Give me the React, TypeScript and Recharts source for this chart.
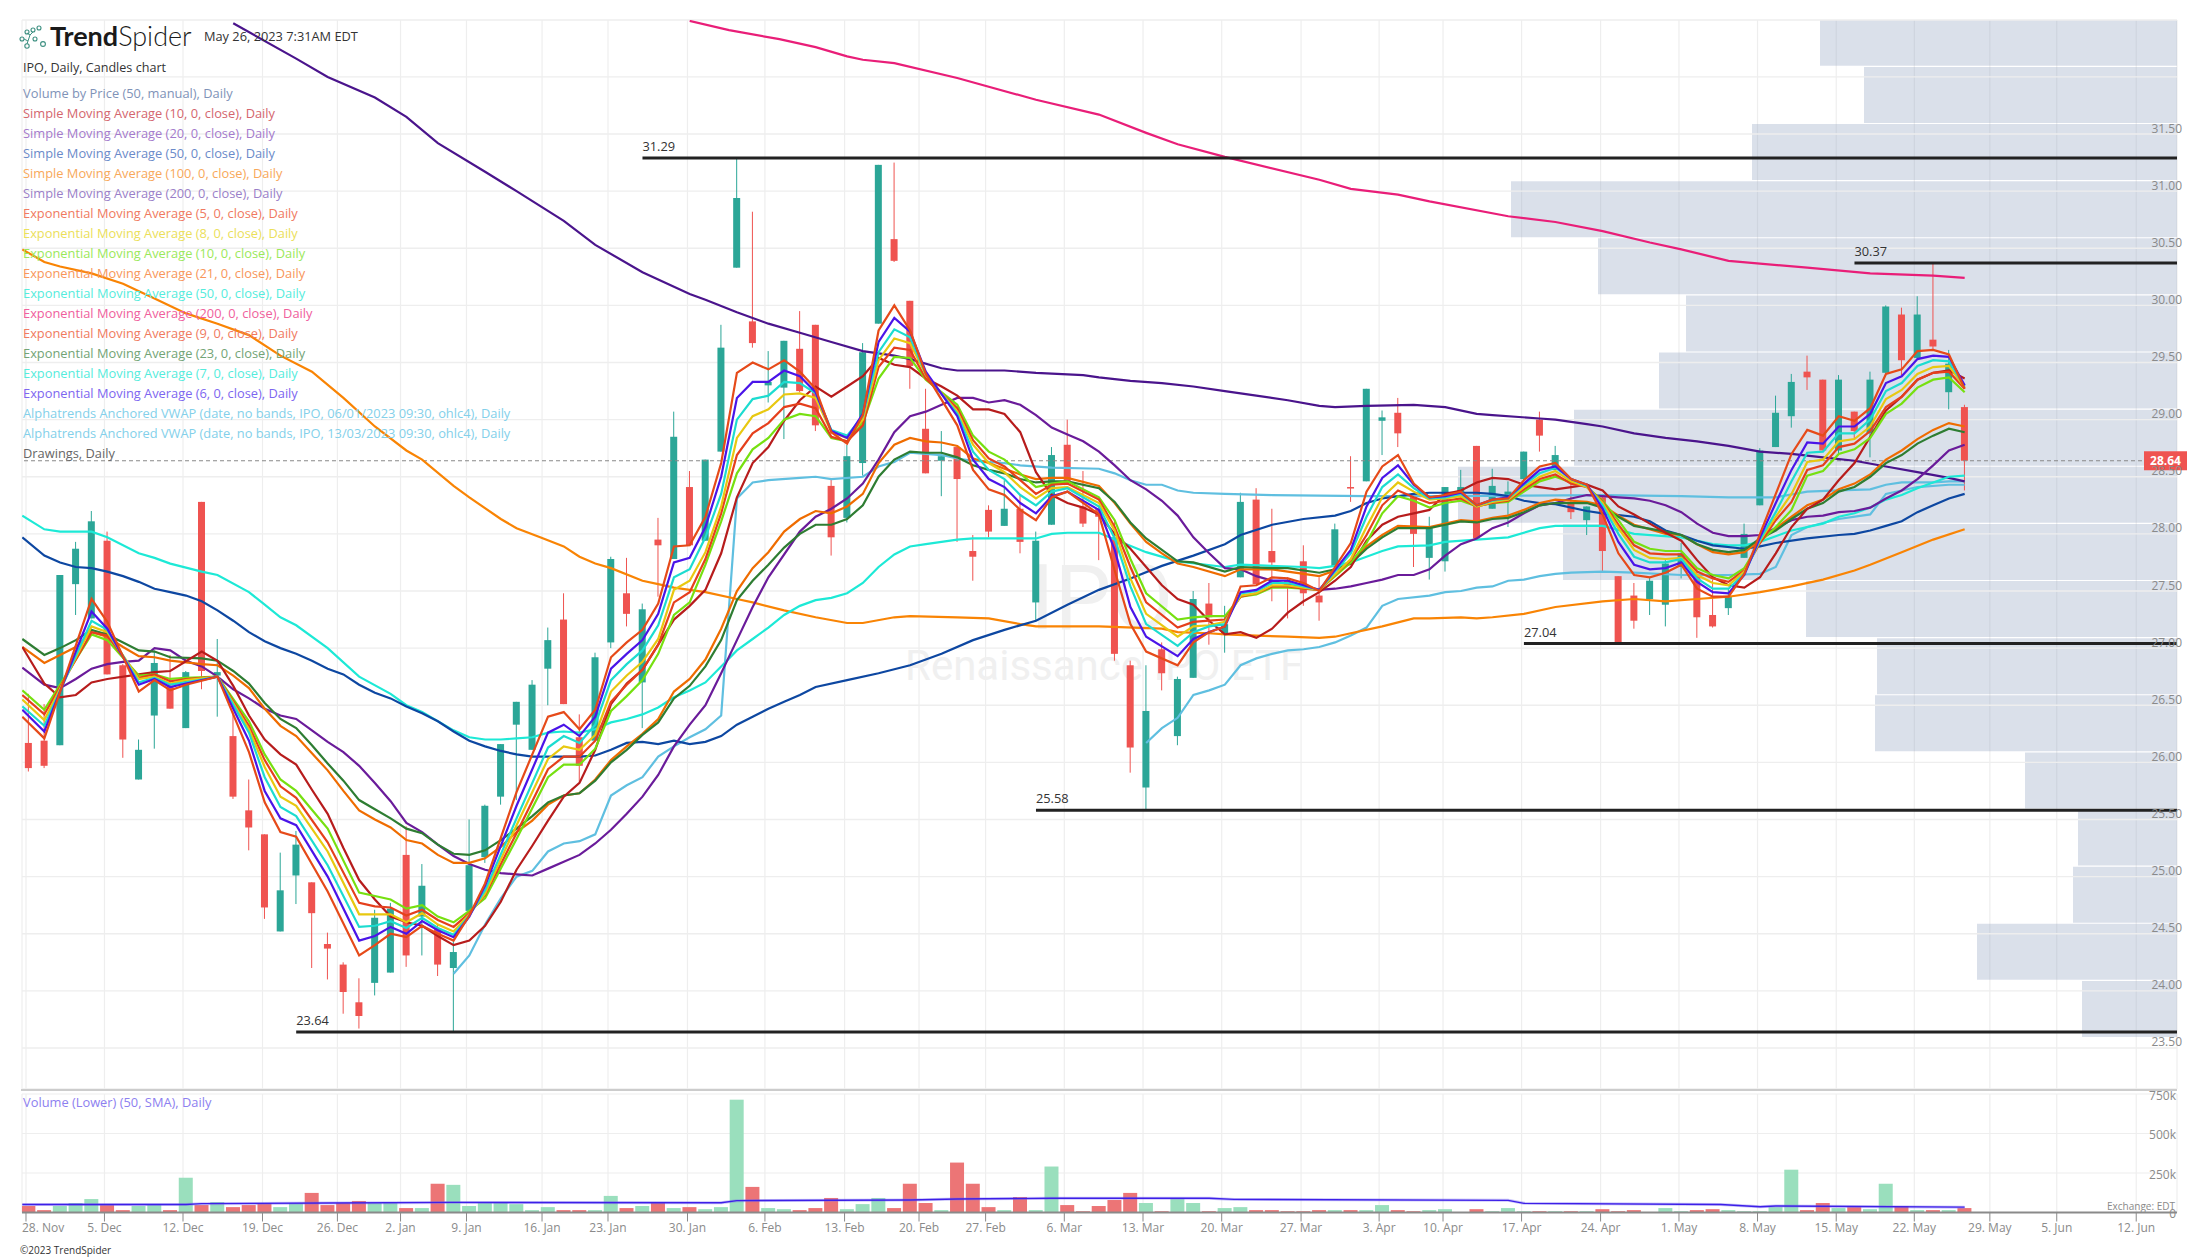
import { Bar, CartesianGrid, ComposedChart, Line, ReferenceDot, ReferenceLine, XAxis, YAxis } from "recharts";

const W = 2207;
const H = 1259;
const UP = "#2ba697";
const DOWN = "#ef5350";
const FONT = "'Open Sans', sans-serif";

const opens = [
  26.17, 26.19, 26.15, 27.56, 27.26, 27.94, 26.85, 25.85, 26.41, 26.67,
  26.3, 28.28, 26.76, 26.23, 25.58, 25.37, 24.52, 25.01, 24.95, 24.41,
  24.23, 23.9, 24.07, 24.16, 25.19, 24.65, 24.55, 24.2, 24.7, 25.17,
  25.7, 26.33, 26.11, 26.82, 27.25, 26.22, 26.19, 27.05, 27.48, 26.7,
  27.95, 27.78, 28.41, 27.94, 28.72, 30.33, 29.86, 29.3, 29.28, 29.62,
  29.83, 28.42, 28.14, 28.62, 29.84, 30.58, 30.04, 28.92, 28.64, 28.76,
  27.85, 28.21, 28.07, 28.22, 27.4, 28.08, 28.78, 28.24, 28.22, 27.97,
  26.85, 25.78, 26.99, 26.23, 26.74, 27.39, 27.13, 27.62, 28.3, 27.85,
  27.59, 27.76, 27.46, 27.71, 28.41, 28.46, 28.99, 29.06, 28.35, 27.79,
  27.76, 28.34, 28.77, 28.22, 28.31, 28.48, 29.0, 28.56, 28.27, 28.12,
  28.32, 27.63, 27.46, 27.43, 27.38, 27.71, 27.65, 27.29, 27.35, 27.79,
  28.25, 28.76, 29.03, 29.42, 29.35, 28.73, 29.07, 28.88, 29.41, 29.92,
  29.54, 29.7, 29.24, 29.11,
];
const closes = [
  25.95, 25.97, 27.64, 27.87, 28.11, 26.77, 26.2, 26.11, 26.87, 26.47,
  26.79, 26.8, 26.79, 25.7, 25.43, 24.73, 24.88, 25.28, 24.68, 24.37,
  23.99, 23.78, 24.64, 24.72, 24.31, 24.92, 24.23, 24.34, 25.1, 25.62,
  26.16, 26.53, 26.68, 27.07, 26.51, 25.97, 26.92, 27.78, 27.3, 27.34,
  27.9, 28.85, 27.9, 28.65, 29.63, 30.94, 29.67, 29.33, 29.69, 29.25,
  28.95, 27.97, 28.68, 29.59, 31.23, 30.39, 29.47, 28.53, 28.68, 28.48,
  27.8, 28.02, 28.22, 27.93, 27.94, 28.69, 28.46, 28.09, 28.15, 26.95,
  26.13, 26.45, 26.78, 26.73, 27.43, 27.27, 27.21, 28.28, 27.56, 27.75,
  27.54, 27.48, 27.4, 28.04, 28.4, 29.27, 29.02, 28.88, 28.0, 28.05,
  28.41, 28.41, 27.96, 28.42, 28.37, 28.72, 28.86, 28.69, 28.19, 28.24,
  27.85, 27.05, 27.24, 27.59, 27.74, 27.83, 27.27, 27.19, 27.45, 28.0,
  28.73, 29.06, 29.33, 29.37, 28.73, 29.35, 28.9, 29.35, 29.99, 29.52,
  29.92, 29.64, 29.49, 28.64,
];
const highs = [
  26.6, 26.51, 27.64, 27.93, 28.2, 28.02, 26.86, 26.2, 26.98, 26.94,
  26.8, 28.28, 27.08, 26.44, 25.85, 25.37, 25.21, 25.4, 24.95, 24.51,
  24.25, 24.11, 24.71, 24.77, 25.44, 25.11, 24.58, 24.45, 25.5, 25.63,
  26.16, 26.53, 26.72, 27.18, 27.48, 26.42, 26.96, 27.8, 27.79, 27.39,
  28.14, 29.07, 28.55, 28.65, 29.83, 31.29, 30.82, 29.6, 29.69, 29.95,
  29.83, 28.48, 28.78, 29.67, 31.23, 31.25, 30.04, 29.27, 28.9, 28.76,
  27.99, 28.25, 28.47, 28.34, 28.02, 28.76, 29.0, 28.55, 28.25, 28.12,
  26.89, 26.85, 27.05, 26.75, 27.5, 27.57, 27.37, 28.36, 28.4, 28.22,
  27.62, 27.9, 27.62, 28.09, 28.68, 29.27, 29.08, 29.19, 28.35, 28.15,
  28.41, 28.56, 28.77, 28.57, 28.46, 28.72, 29.07, 28.77, 28.44, 28.24,
  28.35, 27.63, 27.57, 27.62, 27.77, 27.92, 27.7, 27.6, 27.52, 28.09,
  28.75, 29.21, 29.4, 29.56, 29.35, 29.39, 29.07, 29.42, 30.0, 29.98,
  30.08, 30.37, 29.61, 29.13,
];
const lows = [
  25.92, 25.95, 26.15, 27.29, 27.26, 26.77, 26.04, 25.85, 26.12, 26.47,
  26.3, 26.64, 26.4, 25.68, 25.23, 24.63, 24.52, 24.76, 24.2, 24.1,
  23.8, 23.67, 23.96, 24.16, 24.21, 24.31, 24.13, 23.64, 24.7, 25.12,
  25.63, 25.67, 26.11, 26.5, 26.51, 25.83, 26.19, 27.0, 27.19, 26.3,
  27.45, 27.78, 27.9, 27.94, 28.72, 30.33, 29.63, 29.15, 28.83, 29.24,
  28.9, 27.81, 28.1, 28.51, 29.84, 30.38, 29.27, 28.53, 28.33, 27.93,
  27.59, 27.97, 28.07, 27.83, 27.24, 28.08, 28.46, 28.06, 27.77, 26.89,
  25.91, 25.58, 26.63, 26.15, 26.74, 27.03, 26.96, 27.62, 27.56, 27.41,
  27.26, 27.37, 27.24, 27.71, 28.28, 28.46, 28.69, 28.76, 27.71, 27.6,
  27.67, 28.3, 27.96, 28.22, 28.06, 28.47, 28.72, 28.56, 28.13, 27.99,
  27.66, 27.04, 27.17, 27.29, 27.19, 27.61, 27.09, 27.18, 27.29, 27.79,
  28.25, 28.76, 28.93, 29.26, 28.73, 28.7, 28.83, 28.67, 29.41, 29.39,
  29.54, 29.61, 29.09, 28.38,
];
const volumes = [
  41, 15, 41, 60, 85, 47, 15, 41, 47, 15,
  220, 47, 66, 34, 47, 60, 34, 60, 124, 47,
  60, 73, 60, 60, 28, 28, 182, 175, 41, 66,
  60, 53, 15, 34, 15, 15, 15, 105, 28, 41,
  66, 28, 34, 21, 34, 714, 162, 28, 21, 15,
  28, 92, 21, 53, 92, 28, 182, 60, 15, 316,
  182, 34, 15, 98, 15, 291, 47, 8, 41, 79,
  124, 60, 8, 85, 60, 8, 28, 34, 15, 15,
  8, 8, 15, 15, 15, 15, 47, 15, 8, 15,
  21, 2, 21, 8, 28, 8, 8, 8, 8, 8,
  21, 8, 15, 2, 28, 8, 15, 21, 15, 8,
  8, 34, 271, 15, 60, 28, 34, 21, 182, 41,
  15, 15, 15, 28,
];

const fastIdx = [
  -0.4, 1, 4, 5, 7, 8, 9, 10, 12, 14,
  15, 16, 17, 19, 21, 22, 23, 24, 25, 26,
  27, 28, 29, 31, 33, 34, 35, 36, 37, 38,
  39, 40, 41, 42, 43, 44, 45, 46, 47, 48,
  49, 50, 51, 52, 53, 54, 55, 56, 57, 59,
  60, 61, 62, 63, 64, 65, 66, 68, 69, 70,
  71, 73, 74, 75, 76, 77, 78, 79, 80, 81,
  82, 84, 85, 86, 87, 88, 89, 90, 91, 92,
  93, 94, 95, 96, 97, 98, 99, 100, 101, 102,
  103, 104, 105, 106, 107, 108, 109, 110, 111, 112,
  113, 114, 115, 116, 117, 118, 119, 120, 121, 122,
  123,
];
const ema5 = [
  26.4, 26.21, 27.43, 27.23, 26.62, 26.72, 26.63, 26.68, 26.75, 26.09,
  25.65, 25.39, 25.35, 24.87, 24.31, 24.4, 24.5, 24.47, 24.57, 24.5,
  24.44, 24.66, 24.94, 25.74, 26.4, 26.44, 26.29, 26.46, 26.92, 27.05,
  27.16, 27.39, 27.89, 27.9, 28.15, 28.62, 29.41, 29.5, 29.44, 29.52,
  29.42, 29.27, 28.89, 28.79, 29.04, 29.78, 30.0, 29.78, 29.4, 28.95,
  28.56, 28.39, 28.34, 28.21, 28.12, 28.32, 28.37, 28.17, 27.68, 27.21,
  26.97, 26.85, 27.05, 27.14, 27.19, 27.54, 27.55, 27.62, 27.61, 27.57,
  27.5, 27.92, 28.37, 28.59, 28.69, 28.44, 28.32, 28.34, 28.37, 28.25,
  28.3, 28.31, 28.47, 28.59, 28.62, 28.48, 28.43, 28.17, 27.83, 27.64,
  27.62, 27.66, 27.73, 27.52, 27.45, 27.45, 27.65, 28.0, 28.35, 28.7,
  28.91, 28.86, 29.03, 28.99, 29.1, 29.4, 29.44, 29.6, 29.61, 29.57,
  29.27,
];
const ema6 = [
  26.46, 26.27, 27.32, 27.17, 26.68, 26.73, 26.66, 26.69, 26.75, 26.19,
  25.75, 25.51, 25.45, 25.0, 24.44, 24.48, 24.56, 24.5, 24.61, 24.53,
  24.47, 24.65, 24.92, 25.62, 26.26, 26.33, 26.23, 26.4, 26.82, 26.95,
  27.07, 27.3, 27.75, 27.79, 28.06, 28.5, 29.19, 29.33, 29.33, 29.43,
  29.38, 29.24, 28.9, 28.84, 29.05, 29.68, 29.89, 29.77, 29.42, 29.03,
  28.65, 28.48, 28.41, 28.27, 28.18, 28.33, 28.37, 28.21, 27.86, 27.36,
  27.1, 26.93, 27.08, 27.14, 27.19, 27.49, 27.51, 27.59, 27.59, 27.55,
  27.51, 27.86, 28.24, 28.49, 28.6, 28.43, 28.32, 28.33, 28.36, 28.25,
  28.3, 28.32, 28.44, 28.56, 28.59, 28.48, 28.43, 28.22, 27.93, 27.73,
  27.69, 27.7, 27.75, 27.58, 27.49, 27.48, 27.64, 27.97, 28.27, 28.56,
  28.8, 28.79, 28.94, 28.94, 29.05, 29.32, 29.38, 29.53, 29.56, 29.55,
  29.3,
];
const ema7 = [
  26.49, 26.32, 27.24, 27.16, 26.7, 26.74, 26.68, 26.7, 26.75, 26.26,
  25.87, 25.61, 25.53, 25.1, 24.56, 24.57, 24.61, 24.55, 24.64, 24.55,
  24.49, 24.66, 24.88, 25.51, 26.13, 26.23, 26.17, 26.33, 26.72, 26.86,
  26.98, 27.2, 27.62, 27.69, 27.97, 28.35, 29.0, 29.18, 29.21, 29.33,
  29.32, 29.23, 28.91, 28.86, 29.03, 29.59, 29.79, 29.72, 29.4, 29.05,
  28.72, 28.56, 28.48, 28.34, 28.25, 28.37, 28.4, 28.24, 27.96, 27.54,
  27.21, 27.02, 27.14, 27.19, 27.21, 27.48, 27.5, 27.57, 27.57, 27.54,
  27.51, 27.83, 28.15, 28.41, 28.52, 28.4, 28.31, 28.32, 28.35, 28.25,
  28.29, 28.31, 28.43, 28.53, 28.58, 28.48, 28.42, 28.25, 28.0, 27.8,
  27.75, 27.75, 27.78, 27.61, 27.52, 27.52, 27.65, 27.95, 28.19, 28.46,
  28.71, 28.72, 28.88, 28.88, 29.0, 29.25, 29.32, 29.47, 29.52, 29.51,
  29.29,
];
const ema8 = [
  26.55, 26.37, 27.19, 27.14, 26.73, 26.75, 26.69, 26.72, 26.75, 26.29,
  25.96, 25.7, 25.62, 25.22, 24.67, 24.67, 24.67, 24.6, 24.68, 24.58,
  24.52, 24.67, 24.85, 25.45, 26.03, 26.14, 26.11, 26.24, 26.62, 26.76,
  26.88, 27.08, 27.51, 27.59, 27.84, 28.24, 28.84, 29.03, 29.09, 29.22,
  29.23, 29.19, 28.89, 28.84, 29.0, 29.52, 29.71, 29.67, 29.39, 29.07,
  28.78, 28.62, 28.54, 28.41, 28.31, 28.4, 28.41, 28.27, 28.03, 27.61,
  27.3, 27.1, 27.19, 27.2, 27.23, 27.46, 27.48, 27.55, 27.55, 27.53,
  27.51, 27.78, 28.06, 28.32, 28.45, 28.37, 28.3, 28.31, 28.33, 28.24,
  28.28, 28.3, 28.41, 28.5, 28.55, 28.46, 28.41, 28.27, 28.05, 27.86,
  27.79, 27.78, 27.79, 27.64, 27.57, 27.55, 27.67, 27.94, 28.15, 28.35,
  28.63, 28.65, 28.81, 28.83, 28.94, 29.18, 29.26, 29.4, 29.46, 29.47,
  29.28,
];
const ema9 = [
  26.59, 26.42, 27.14, 27.11, 26.74, 26.77, 26.71, 26.73, 26.75, 26.32,
  26.02, 25.79, 25.69, 25.3, 24.77, 24.74, 24.73, 24.66, 24.71, 24.62,
  24.56, 24.68, 24.84, 25.38, 25.94, 26.05, 26.05, 26.19, 26.53, 26.68,
  26.81, 27.03, 27.4, 27.49, 27.78, 28.18, 28.69, 28.88, 28.97, 29.11,
  29.14, 29.1, 28.85, 28.81, 28.95, 29.46, 29.63, 29.61, 29.36, 29.1,
  28.82, 28.66, 28.59, 28.47, 28.35, 28.43, 28.44, 28.3, 28.06, 27.71,
  27.4, 27.18, 27.23, 27.24, 27.25, 27.45, 27.48, 27.54, 27.54, 27.52,
  27.51, 27.77, 27.99, 28.25, 28.38, 28.32, 28.27, 28.29, 28.31, 28.24,
  28.27, 28.29, 28.39, 28.48, 28.52, 28.44, 28.41, 28.28, 28.08, 27.9,
  27.83, 27.82, 27.82, 27.67, 27.61, 27.58, 27.68, 27.92, 28.12, 28.28,
  28.56, 28.6, 28.76, 28.79, 28.9, 29.11, 29.2, 29.35, 29.41, 29.42,
  29.27,
];
const ema10 = [
  26.63, 26.46, 27.12, 27.07, 26.76, 26.77, 26.73, 26.74, 26.75, 26.36,
  26.07, 25.85, 25.75, 25.42, 24.86, 24.83, 24.8, 24.72, 24.75, 24.65,
  24.6, 24.7, 24.81, 25.33, 25.87, 25.98, 25.98, 26.12, 26.45, 26.58,
  26.72, 26.95, 27.29, 27.4, 27.73, 28.11, 28.53, 28.74, 28.84, 29.0,
  29.05, 29.03, 28.84, 28.81, 28.97, 29.36, 29.55, 29.54, 29.35, 29.13,
  28.86, 28.72, 28.65, 28.53, 28.41, 28.44, 28.46, 28.32, 28.12, 27.78,
  27.48, 27.25, 27.27, 27.28, 27.28, 27.45, 27.47, 27.53, 27.53, 27.52,
  27.51, 27.75, 27.92, 28.18, 28.33, 28.29, 28.23, 28.27, 28.29, 28.24,
  28.27, 28.28, 28.37, 28.46, 28.5, 28.45, 28.41, 28.29, 28.12, 27.93,
  27.87, 27.85, 27.85, 27.7, 27.64, 27.61, 27.7, 27.93, 28.06, 28.21,
  28.51, 28.55, 28.7, 28.74, 28.84, 29.05, 29.14, 29.28, 29.35, 29.37,
  29.24,
];

// slower lines: [bar index, price]
const sma10 = [[-0.4, 27.01], [1, 26.69], [2, 26.57], [3, 26.59], [4, 26.7], [5, 26.73], [7, 26.77], [8, 26.79], [9, 26.8], [11, 26.97], [12, 26.89], [13, 26.67], [14, 26.41], [15, 26.2], [16, 26.07], [17, 25.98], [18, 25.76], [19, 25.55], [20, 25.25], [21, 24.97], [22, 24.8], [23, 24.65], [24, 24.6], [25, 24.57], [26, 24.48], [27, 24.4], [28, 24.44], [29, 24.57], [30, 24.78], [31, 25.06], [32, 25.27], [33, 25.49], [34, 25.7], [35, 25.82], [36, 26.11], [37, 26.51], [38, 26.69], [39, 26.81], [40, 27.03], [41, 27.25], [42, 27.37], [43, 27.51], [44, 27.83], [45, 28.32], [46, 28.62], [47, 28.76], [48, 28.99], [49, 29.17], [50, 29.29], [51, 29.2], [52, 29.29], [53, 29.38], [54, 29.54], [55, 29.48], [56, 29.46], [57, 29.36], [58, 29.29], [59, 29.21], [60, 29.09], [61, 29.09], [62, 29.05], [63, 28.89], [64, 28.54], [65, 28.34], [66, 28.27], [67, 28.23], [68, 28.17], [69, 28.0], [70, 27.87], [71, 27.71], [72, 27.55], [73, 27.43], [74, 27.38], [75, 27.24], [76, 27.12], [77, 27.14], [78, 27.09], [79, 27.17], [80, 27.31], [81, 27.41], [82, 27.49], [83, 27.59], [84, 27.71], [85, 27.94], [86, 28.08], [87, 28.15], [88, 28.18], [89, 28.21], [90, 28.35], [91, 28.38], [92, 28.45], [93, 28.49], [94, 28.48], [95, 28.43], [96, 28.41], [97, 28.39], [98, 28.41], [99, 28.43], [100, 28.38], [101, 28.24], [102, 28.17], [103, 28.09], [104, 28.01], [105, 27.94], [106, 27.77], [107, 27.62], [108, 27.55], [109, 27.53], [110, 27.62], [111, 27.83], [112, 28.06], [113, 28.22], [114, 28.3], [115, 28.47], [116, 28.62], [117, 28.85], [118, 29.08], [119, 29.2], [120, 29.35], [121, 29.41], [122, 29.43], [123, 29.36]];
const sma20 = [[-0.4, 26.83], [1, 26.68], [2, 26.65], [3, 26.73], [4, 26.82], [5, 26.86], [6, 26.88], [7, 26.89], [8, 27.0], [9, 26.98], [10, 26.89], [11, 26.84], [12, 26.75], [13, 26.64], [14, 26.56], [15, 26.47], [16, 26.41], [17, 26.38], [18, 26.28], [19, 26.18], [20, 26.09], [21, 25.97], [22, 25.82], [23, 25.66], [24, 25.47], [25, 25.39], [26, 25.28], [27, 25.18], [28, 25.11], [29, 25.06], [30, 25.03], [31, 25.02], [32, 25.01], [33, 25.07], [34, 25.13], [35, 25.19], [36, 25.29], [37, 25.41], [38, 25.55], [39, 25.7], [40, 25.89], [41, 26.14], [42, 26.33], [43, 26.5], [44, 26.78], [45, 27.07], [46, 27.36], [47, 27.62], [49, 28.02], [50, 28.15], [51, 28.22], [52, 28.31], [53, 28.44], [54, 28.65], [55, 28.89], [56, 29.03], [57, 29.07], [58, 29.13], [59, 29.19], [60, 29.19], [61, 29.15], [62, 29.17], [63, 29.13], [64, 29.04], [65, 28.93], [66, 28.87], [67, 28.81], [68, 28.72], [69, 28.6], [70, 28.47], [71, 28.39], [72, 28.29], [73, 28.16], [74, 27.97], [75, 27.83], [76, 27.7], [77, 27.69], [78, 27.63], [79, 27.59], [80, 27.56], [81, 27.53], [82, 27.51], [83, 27.52], [84, 27.54], [85, 27.57], [86, 27.6], [87, 27.64], [88, 27.64], [89, 27.69], [90, 27.81], [91, 27.91], [92, 27.96], [93, 28.05], [94, 28.1], [95, 28.18], [96, 28.25], [97, 28.27], [98, 28.31], [99, 28.34], [100, 28.33], [101, 28.32], [102, 28.31], [103, 28.29], [104, 28.25], [105, 28.19], [106, 28.09], [107, 28.01], [108, 27.98], [109, 27.98], [110, 27.99], [111, 28.05], [112, 28.12], [113, 28.15], [114, 28.16], [115, 28.19], [116, 28.2], [117, 28.23], [118, 28.31], [119, 28.38], [120, 28.48], [121, 28.6], [122, 28.73], [123, 28.78]];
const sma50 = [[-0.4, 27.97], [1, 27.81], [2, 27.75], [3, 27.71], [4, 27.7], [5, 27.67], [6, 27.63], [7, 27.58], [8, 27.52], [9, 27.49], [10, 27.46], [11, 27.41], [12, 27.33], [13, 27.24], [14, 27.14], [15, 27.06], [16, 27.0], [17, 26.95], [18, 26.89], [19, 26.82], [20, 26.77], [21, 26.68], [22, 26.61], [23, 26.56], [24, 26.49], [25, 26.43], [26, 26.36], [27, 26.27], [28, 26.19], [29, 26.14], [30, 26.1], [31, 26.07], [32, 26.05], [33, 26.05], [34, 26.05], [35, 26.05], [36, 26.06], [37, 26.11], [38, 26.17], [39, 26.18], [40, 26.16], [41, 26.19], [42, 26.16], [43, 26.18], [44, 26.23], [45, 26.33], [46, 26.4], [47, 26.47], [48, 26.53], [49, 26.59], [50, 26.66], [52, 26.72], [54, 26.78], [56, 26.85], [58, 26.95], [60, 27.07], [62, 27.16], [64, 27.24], [66, 27.38], [68, 27.51], [70, 27.61], [72, 27.72], [74, 27.81], [76, 27.91], [77, 27.99], [79, 28.08], [81, 28.13], [83, 28.16], [84, 28.2], [85, 28.27], [86, 28.31], [88, 28.35], [89, 28.36], [90, 28.36], [92, 28.36], [93, 28.35], [94, 28.33], [95, 28.29], [96, 28.27], [97, 28.26], [99, 28.2], [100, 28.18], [102, 28.15], [103, 28.11], [104, 28.03], [105, 27.99], [106, 27.94], [107, 27.9], [109, 27.87], [110, 27.89], [111, 27.92], [113, 27.96], [115, 27.99], [116, 28.0], [117, 28.03], [118, 28.07], [119, 28.11], [120, 28.19], [121, 28.25], [122, 28.31], [123, 28.35]];
const sma100 = [[-0.4, 30.49], [1, 30.38], [2, 30.34], [4, 30.28], [6, 30.19], [8, 30.06], [10, 29.93], [12, 29.84], [14, 29.74], [16, 29.56], [18, 29.42], [20, 29.19], [22, 28.94], [24, 28.73], [25, 28.65], [27, 28.42], [28, 28.32], [30, 28.13], [31, 28.05], [32.5, 27.97], [34, 27.89], [35, 27.8], [36, 27.74], [37, 27.7], [39, 27.59], [40, 27.56], [41, 27.53], [43, 27.49], [45, 27.43], [46, 27.4], [48, 27.33], [50, 27.27], [52, 27.22], [53, 27.22], [55, 27.27], [56, 27.28], [59, 27.27], [61, 27.26], [63, 27.21], [64, 27.19], [68, 27.19], [72, 27.17], [73, 27.14], [75, 27.13], [76, 27.12], [78, 27.11], [80, 27.1], [82, 27.09], [83, 27.1], [84, 27.13], [86, 27.19], [88, 27.26], [89, 27.26], [91, 27.27], [92, 27.26], [93, 27.27], [95, 27.3], [97, 27.36], [100, 27.41], [102, 27.43], [104, 27.41], [106, 27.43], [108, 27.45], [110, 27.49], [112, 27.54], [114, 27.6], [116, 27.68], [117, 27.73], [119, 27.84], [121, 27.95], [123, 28.04]];
const sma200 = [[13, 32.47], [17, 32.16], [19, 32.0], [22, 31.82], [24, 31.65], [26, 31.42], [29, 31.17], [31, 31.0], [34, 30.74], [36, 30.53], [39, 30.29], [42, 30.1], [43, 30.05], [45, 29.94], [47, 29.84], [49, 29.76], [51, 29.68], [53, 29.6], [55, 29.56], [56, 29.53], [58, 29.45], [59, 29.43], [62, 29.43], [64, 29.41], [67, 29.39], [68, 29.37], [70, 29.34], [72, 29.32], [74, 29.29], [76, 29.25], [78, 29.21], [80, 29.17], [82, 29.12], [83, 29.11], [85, 29.12], [88, 29.13], [90, 29.11], [92, 29.05], [93, 29.04], [96, 29.01], [97, 29.0], [99, 28.96], [100, 28.94], [102, 28.88], [104, 28.84], [106, 28.81], [108, 28.77], [110, 28.72], [112, 28.7], [114, 28.67], [116, 28.64], [118, 28.59], [120, 28.54], [122, 28.49], [123, 28.46]];
const ema21 = [[-0.4, 27.01], [1, 26.87], [2, 26.94], [3, 27.01], [4, 27.14], [5, 27.1], [6, 27.01], [7, 26.93], [8, 26.92], [9, 26.89], [11, 26.86], [12, 26.85], [13, 26.76], [14, 26.65], [15, 26.47], [16, 26.32], [17, 26.23], [18, 26.08], [19, 25.93], [20, 25.75], [21, 25.58], [22, 25.5], [23, 25.43], [24, 25.32], [25, 25.29], [26, 25.19], [27, 25.12], [28, 25.12], [29, 25.16], [30, 25.26], [31, 25.39], [32, 25.49], [33, 25.63], [34, 25.71], [35, 25.73], [36, 25.85], [37, 26.02], [38, 26.14], [39, 26.25], [40, 26.38], [41, 26.62], [42, 26.73], [43, 26.9], [44, 27.17], [45, 27.5], [46, 27.7], [47, 27.84], [48, 28.02], [49, 28.13], [50, 28.2], [51, 28.18], [52, 28.24], [53, 28.35], [54, 28.62], [55, 28.78], [56, 28.84], [57, 28.81], [58, 28.8], [59, 28.77], [60, 28.66], [61, 28.62], [62, 28.57], [63, 28.52], [64, 28.48], [65, 28.49], [66, 28.49], [68, 28.42], [69, 28.27], [70, 28.09], [71, 27.93], [72, 27.83], [73, 27.74], [74, 27.71], [76, 27.63], [77, 27.69], [79, 27.69], [80, 27.67], [82, 27.63], [83, 27.68], [84, 27.74], [85, 27.89], [86, 27.99], [87, 28.07], [89, 28.06], [90, 28.09], [91, 28.12], [92, 28.11], [93, 28.14], [94, 28.16], [95, 28.21], [96, 28.27], [97, 28.3], [98, 28.29], [99, 28.28], [100, 28.25], [101, 28.16], [102, 28.08], [104, 28.0], [105, 27.99], [106, 27.91], [107, 27.84], [108, 27.82], [109, 27.84], [110, 27.94], [111, 28.05], [112, 28.15], [113, 28.25], [114, 28.3], [115, 28.39], [116, 28.44], [117, 28.52], [118, 28.65], [119, 28.73], [120, 28.83], [121, 28.91], [122, 28.97], [123, 28.94]];
const ema23 = [[-0.4, 27.08], [1, 26.94], [2, 27.0], [3, 27.07], [4, 27.16], [5, 27.12], [6, 27.05], [7, 26.98], [8, 26.97], [9, 26.92], [11, 26.91], [12, 26.89], [13, 26.8], [14, 26.69], [15, 26.52], [16, 26.38], [17, 26.3], [18, 26.15], [19, 25.99], [20, 25.84], [21, 25.67], [22, 25.59], [23, 25.51], [24, 25.42], [25, 25.38], [26, 25.28], [27, 25.2], [28, 25.19], [29, 25.23], [30, 25.32], [31, 25.42], [32, 25.53], [33, 25.65], [34, 25.71], [35, 25.73], [36, 25.84], [37, 26.0], [38, 26.11], [39, 26.24], [40, 26.35], [41, 26.56], [42, 26.67], [43, 26.84], [44, 27.07], [45, 27.42], [46, 27.59], [47, 27.73], [48, 27.88], [49, 28.0], [50, 28.08], [51, 28.08], [52, 28.13], [53, 28.25], [54, 28.5], [55, 28.65], [56, 28.72], [57, 28.71], [58, 28.71], [59, 28.67], [60, 28.6], [61, 28.56], [62, 28.53], [63, 28.48], [64, 28.45], [65, 28.46], [66, 28.46], [68, 28.4], [69, 28.28], [70, 28.1], [71, 27.96], [72, 27.86], [73, 27.76], [74, 27.75], [76, 27.67], [77, 27.71], [79, 27.7], [80, 27.7], [82, 27.66], [83, 27.69], [84, 27.74], [85, 27.87], [86, 27.97], [87, 28.05], [89, 28.05], [90, 28.08], [91, 28.11], [92, 28.1], [93, 28.13], [94, 28.14], [95, 28.19], [96, 28.25], [97, 28.27], [98, 28.27], [99, 28.27], [100, 28.23], [101, 28.15], [102, 28.07], [104, 28.02], [105, 27.99], [106, 27.91], [107, 27.86], [108, 27.84], [109, 27.86], [110, 27.96], [111, 28.03], [112, 28.13], [113, 28.22], [114, 28.27], [115, 28.37], [116, 28.41], [117, 28.5], [118, 28.62], [119, 28.69], [120, 28.79], [121, 28.86], [122, 28.92], [123, 28.89]];
const ema50 = [[-0.4, 28.16], [1, 28.04], [2, 28.02], [4, 28.02], [5, 27.97], [7, 27.83], [8, 27.79], [9, 27.74], [11, 27.67], [12, 27.64], [14, 27.49], [15, 27.38], [16, 27.27], [17, 27.2], [19, 27.0], [21, 26.75], [23, 26.6], [24, 26.5], [25, 26.44], [27, 26.28], [28, 26.22], [29, 26.2], [30, 26.2], [31, 26.21], [32, 26.22], [33, 26.26], [34, 26.27], [35, 26.26], [36, 26.29], [37, 26.35], [38, 26.38], [39, 26.42], [40, 26.48], [41, 26.57], [42, 26.63], [43, 26.7], [44, 26.84], [45, 26.98], [46, 27.08], [47, 27.18], [48, 27.29], [49, 27.37], [50, 27.42], [51, 27.44], [52, 27.48], [53, 27.57], [54, 27.71], [55, 27.82], [56, 27.89], [57, 27.91], [59, 27.95], [60, 27.96], [62, 27.96], [64, 27.96], [65, 28.0], [66, 28.01], [68, 28.01], [69, 27.95], [71, 27.84], [73, 27.76], [76, 27.71], [77, 27.73], [81, 27.71], [82, 27.7], [83, 27.72], [84, 27.75], [86, 27.85], [87, 27.89], [89, 27.9], [90, 27.93], [92, 27.95], [94, 27.97], [96, 28.05], [97, 28.07], [100, 28.07], [102, 28.0], [105, 27.97], [107, 27.91], [108, 27.9], [109, 27.9], [110, 27.93], [111, 27.98], [112, 28.03], [114, 28.09], [115, 28.15], [116, 28.18], [117, 28.23], [118, 28.3], [119, 28.34], [120, 28.4], [121, 28.45], [122, 28.5], [123, 28.51]];
const ema200 = [[42, 32.49], [44.5, 32.41], [47.7, 32.33], [50, 32.26], [52, 32.18], [53, 32.15], [55, 32.12], [59, 31.99], [64, 31.8], [68, 31.67], [71, 31.51], [73, 31.41], [76, 31.3], [82, 31.1], [84, 31.02], [87, 30.97], [89, 30.91], [94, 30.78], [97, 30.73], [100, 30.65], [103, 30.55], [105, 30.49], [108, 30.39], [113, 30.33], [117, 30.28], [121, 30.26], [123, 30.24]];
const vwapJan = [[27, 24.15], [28, 24.31], [29, 24.58], [30, 24.81], [31, 25.0], [32, 25.05], [33, 25.22], [34, 25.29], [35, 25.31], [36, 25.37], [37, 25.71], [38, 25.8], [39, 25.87], [40, 26.05], [41, 26.14], [42, 26.22], [43, 26.29], [44, 26.41], [45, 28.31], [46, 28.45], [47, 28.47], [49, 28.49], [50, 28.5], [51, 28.48], [53, 28.5], [54, 28.59], [55, 28.63], [56, 28.71], [57, 28.7], [58, 28.69], [59, 28.66], [60, 28.64], [62, 28.62], [63, 28.6], [65, 28.58], [68, 28.57], [69, 28.53], [70, 28.47], [71, 28.43], [72, 28.43], [73, 28.38], [74, 28.36], [76, 28.35], [79, 28.34], [85, 28.33], [90, 28.33], [100, 28.34], [105, 28.33], [108, 28.32], [111, 28.32], [113, 28.37], [115, 28.38], [117, 28.39], [118, 28.43], [119, 28.45], [121, 28.45], [122, 28.46], [123, 28.46]];
const vwapMar = [[71, 26.17], [72, 26.3], [73, 26.39], [74, 26.59], [75, 26.63], [76, 26.68], [77, 26.85], [78, 26.91], [79, 26.95], [80, 26.98], [81, 26.99], [82, 27.01], [83, 27.05], [84, 27.11], [85, 27.18], [86, 27.37], [87, 27.43], [89, 27.46], [90, 27.49], [91, 27.5], [92, 27.53], [93, 27.54], [94, 27.59], [95, 27.6], [96, 27.63], [97, 27.65], [98, 27.66], [100, 27.67], [102, 27.66], [105, 27.64], [108, 27.64], [110, 27.65], [111, 27.71], [112, 27.99], [113, 28.06], [115, 28.13], [117, 28.17], [118, 28.35], [119, 28.38], [120, 28.41], [122, 28.43], [123, 28.43]];
const volSma = [[-0.4, 51], [10, 51], [11, 56], [19, 60], [27, 64], [44, 62], [45, 75], [56, 79], [59, 85], [65, 90], [75, 90], [76.6, 83], [94, 77], [95, 58], [107.5, 51], [110, 36], [111, 41], [123, 34]];

const vbpPrices = [32.346, 31.846, 31.346, 30.846, 30.346, 29.846, 29.346, 28.846, 28.346, 27.846, 27.346, 26.846, 26.346, 25.846, 25.346, 24.846, 24.346, 23.846];
const vbpVolumes = [357, 313, 425, 666, 579, 491, 518, 603, 719, 614, 371, 300, 302, 152, 99, 104, 200, 95];

const drawingLevels = [31.29, 30.37, 27.04, 25.58, 23.64];
const drawingStarts = [39, 116, 95, 64, 17];

const priceTicks = [23.5, 24, 24.5, 25, 25.5, 26, 26.5, 27, 27.5, 28, 28.5, 29, 29.5, 30, 30.5, 31, 31.5, 32];
const volumeTicks = [0, 250, 500, 750];
const dateLabels = ["28. Nov", "5. Dec", "12. Dec", "19. Dec", "26. Dec", "2. Jan", "9. Jan", "16. Jan", "23. Jan", "30. Jan", "6. Feb", "13. Feb", "20. Feb", "27. Feb", "6. Mar", "13. Mar", "20. Mar", "27. Mar", "3. Apr", "10. Apr", "17. Apr", "24. Apr", "1. May", "8. May", "15. May", "22. May", "29. May", "5. Jun", "12. Jun"];
const dateTicks = [-0.165, 4.82, 9.81, 14.86, 19.62, 23.63, 27.82, 32.62, 36.81, 41.86, 46.78, 51.84, 56.57, 60.8, 65.8, 70.8, 75.8, 80.84, 85.8, 89.86, 94.85, 99.87, 104.85, 109.84, 114.84, 119.8, 124.6, 128.85, 133.9];

const legendRows = [
  ["Volume by Price (50, manual), Daily", "#7f93b8"],
  ["Simple Moving Average (10, 0, close), Daily", "#d4666e"],
  ["Simple Moving Average (20, 0, close), Daily", "#a47bcc"],
  ["Simple Moving Average (50, 0, close), Daily", "#6b8ac9"],
  ["Simple Moving Average (100, 0, close), Daily", "#f8a85a"],
  ["Simple Moving Average (200, 0, close), Daily", "#9a7fc8"],
  ["Exponential Moving Average (5, 0, close), Daily", "#f07a60"],
  ["Exponential Moving Average (8, 0, close), Daily", "#ebe05a"],
  ["Exponential Moving Average (10, 0, close), Daily", "#9be85a"],
  ["Exponential Moving Average (21, 0, close), Daily", "#f8965a"],
  ["Exponential Moving Average (50, 0, close), Daily", "#55ecdc"],
  ["Exponential Moving Average (200, 0, close), Daily", "#f0609c"],
  ["Exponential Moving Average (9, 0, close), Daily", "#f07a60"],
  ["Exponential Moving Average (23, 0, close), Daily", "#72a476"],
  ["Exponential Moving Average (7, 0, close), Daily", "#55ecdc"],
  ["Exponential Moving Average (6, 0, close), Daily", "#7d66f0"],
  ["Alphatrends Anchored VWAP (date, no bands, IPO, 06/01/2023 09:30, ohlc4), Daily", "#83d0ea"],
  ["Alphatrends Anchored VWAP (date, no bands, IPO, 13/03/2023 09:30, ohlc4), Daily", "#83d0ea"],
  ["Drawings, Daily", "#666666"],
];

const X_DOMAIN: [number, number] = [-0.419, 136.49];
const Y_DOMAIN: [number, number] = [23.141, 32.498];
const LAST = 28.64;

function buildRows() {
  const map = new Map<number, any>();
  const at = (x: number) => {
    if (!map.has(x)) map.set(x, { x });
    return map.get(x);
  };
  opens.forEach((o, i) => {
    Object.assign(at(i), { open: o, close: closes[i], high: highs[i], low: lows[i], volume: volumes[i] });
  });
  const pairs: Record<string, number[][]> = { sma10, sma20, sma50, sma100, sma200, ema21, ema23, ema50, ema200, vwapJan, vwapMar, volSma };
  Object.entries(pairs).forEach(([name, list]) => list.forEach(([x, v]) => (at(x)[name] = v)));
  const fast: Record<string, number[]> = { ema5, ema6, ema7, ema8, ema9, ema10 };
  Object.entries(fast).forEach(([name, list]) => list.forEach((v, i) => (at(fastIdx[i])[name] = v)));
  return [...map.values()].sort((a, b) => a.x - b.x);
}
const rows = buildRows();
const vbpRows = vbpPrices.map((price, i) => ({ price, vol: vbpVolumes[i] }));

const lineStyles: [string, string][] = [
  ["vwapJan", "#5fbfe0"],
  ["vwapMar", "#5fbfe0"],
  ["sma100", "#f98404"],
  ["sma200", "#4a148c"],
  ["ema200", "#e91e78"],
  ["ema50", "#1de9d6"],
  ["sma50", "#0d47a1"],
  ["sma20", "#6a1b9a"],
  ["ema21", "#ef6c00"],
  ["ema23", "#2e7d32"],
  ["sma10", "#b71c1c"],
  ["ema10", "#76e010"],
  ["ema9", "#e53f1c"],
  ["ema8", "#e8c810"],
  ["ema7", "#1cdcd0"],
  ["ema6", "#4a14e8"],
  ["ema5", "#e64a19"],
];

function Candle(props: any) {
  const { x, y, width, height, payload } = props;
  if (!payload || payload.open == null) return null;
  const { open, close, high, low } = payload;
  const color = close >= open ? UP : DOWN;
  const k = high > low ? height / (high - low) : 0;
  const top = y + (high - Math.max(open, close)) * k;
  const h = Math.max(Math.abs(open - close) * k, 1.5);
  const cx = x + width / 2;
  return (
    <g>
      <line x1={cx} x2={cx} y1={y} y2={y + height} stroke={color} strokeWidth={1} />
      <rect x={cx - 3.5} y={top} width={7} height={h} fill={color} />
    </g>
  );
}

function VolumeBar(props: any) {
  const { x, y, width, height, payload } = props;
  if (!payload || payload.open == null) return null;
  const color = payload.close >= payload.open ? "#9adfbd" : "#ec7576";
  return <rect x={x + width / 2 - 7} y={y} width={14} height={height} fill={color} />;
}

function PriceTick(props: any) {
  const { y, payload } = props;
  if (payload.value === 32) return <g />;
  return (
    <text x={2182} y={y - 6} textAnchor="end" dominantBaseline="central" fontFamily={FONT} fontSize={12} fill="#8a8a8a">
      {payload.value.toFixed(2)}
    </text>
  );
}

function VolumeTick(props: any) {
  const { y, payload } = props;
  return (
    <text x={2176} y={y + 1} textAnchor="end" dominantBaseline="central" fontFamily={FONT} fontSize={12} fill="#8a8a8a">
      {payload.value === 0 ? "0" : `${payload.value}k`}
    </text>
  );
}

function DateTick(props: any) {
  const { x, payload, index } = props;
  const label = dateLabels[dateTicks.indexOf(payload.value)];
  return (
    <text x={index === 0 ? 22 : x} y={138} textAnchor={index === 0 ? "start" : "middle"} dominantBaseline="central" fontFamily={FONT} fontSize={12} fill="#8a8a8a">
      {label}
    </text>
  );
}

function Logo() {
  const nodes = [[22, 39, 2], [27, 32, 2], [33, 30, 2], [39, 28, 2], [35, 39, 2], [43, 44, 2.4], [27, 46, 2.2]];
  return (
    <svg style={{ position: "absolute", left: 0, top: 0 }} width={60} height={60}>
      <path d="M24 39 L28 41 L27 44 M28 41 L30 35 L27 33 M30 35 L33 32" fill="none" stroke="#3c8f80" strokeWidth={1} />
      {nodes.map(([cx, cy, r], i) => (
        <circle key={i} cx={cx} cy={cy} r={r} fill="none" stroke="#3c8f80" strokeWidth={1.1} />
      ))}
    </svg>
  );
}

const layer: React.CSSProperties = { position: "absolute", left: 0, top: 0 };
const mainMargin = { top: 20, left: 22, right: 30, bottom: 170 };

export default function App() {
  return (
    <div style={{ position: "absolute", left: 0, top: 0, width: W, height: H, background: "#fff", overflow: "hidden" }}>
      {/* vertical grid sits under the volume-by-price blocks */}
      <div style={layer}>
        <ComposedChart width={W} height={H} data={rows} margin={mainMargin}>
          <CartesianGrid horizontal={false} stroke="#eeeeee" strokeWidth={1.2} />
          <XAxis dataKey="x" type="number" domain={X_DOMAIN} ticks={dateTicks} hide allowDataOverflow />
          <YAxis type="number" domain={Y_DOMAIN} hide allowDataOverflow />
        </ComposedChart>
      </div>

      <div style={layer}>
        <ComposedChart layout="vertical" width={W} height={H} data={vbpRows} margin={mainMargin}>
          <XAxis type="number" domain={[0, 2155]} reversed hide />
          <YAxis type="number" dataKey="price" domain={Y_DOMAIN} reversed hide allowDataOverflow />
          <Bar dataKey="vol" fill="#96a5c3" fillOpacity={0.35} barSize={56} isAnimationActive={false} />
        </ComposedChart>
      </div>

      <div style={{ ...layer, width: W, color: "#f0f0f0", fontFamily: "Roboto, sans-serif" }}>
        <div style={{ position: "absolute", left: 1030, top: 551, fontSize: 90, lineHeight: "96px" }}>IPO</div>
        <div style={{ position: "absolute", left: 905, top: 644, fontSize: 42, lineHeight: "44px", whiteSpace: "nowrap" }}>Renaissance IPO ETF</div>
      </div>

      <div style={layer}>
        <ComposedChart width={W} height={H} data={rows} margin={mainMargin}>
          <CartesianGrid vertical={false} stroke="#eeeeee" strokeWidth={1.4} />
          <XAxis dataKey="x" type="number" domain={X_DOMAIN} ticks={dateTicks} hide allowDataOverflow />
          <YAxis
            type="number"
            orientation="right"
            mirror
            width={1}
            domain={Y_DOMAIN}
            ticks={priceTicks}
            interval={0}
            axisLine={false}
            tickLine={false}
            tick={PriceTick}
            allowDataOverflow
          />
          <ReferenceLine y={LAST} stroke="#888888" strokeDasharray="4 3" strokeWidth={1} />
          <Bar dataKey={(r: any) => (r.open == null ? null : [r.low, r.high])} barSize={14} shape={Candle} isAnimationActive={false} />
          {lineStyles.map(([key, color]) => (
            <Line key={key} dataKey={key} stroke={color} strokeWidth={2.2} dot={false} connectNulls isAnimationActive={false} />
          ))}
          {drawingLevels.map((level, i) => (
            <ReferenceLine key={level} segment={[{ x: drawingStarts[i], y: level }, { x: X_DOMAIN[1], y: level }]} stroke="#222222" strokeWidth={3} />
          ))}
          {drawingLevels.map((level, i) => (
            <ReferenceDot
              key={level}
              x={drawingStarts[i]}
              y={level}
              r={0}
              shape={(p: any) => (
                <text x={p.cx} y={p.cy - 12} dominantBaseline="central" fontFamily={FONT} fontSize={12.8} fill="#333333">
                  {level.toFixed(2)}
                </text>
              )}
            />
          ))}
          <ReferenceDot
            x={X_DOMAIN[1]}
            y={LAST}
            r={0}
            shape={(p: any) => (
              <g>
                <rect x={2144} y={p.cy - 9.5} width={43} height={19} fill="#ef5350" />
                <text x={2165.5} y={p.cy} textAnchor="middle" dominantBaseline="central" fontFamily={FONT} fontWeight={700} fontSize={12} fill="#ffffff">
                  {LAST.toFixed(2)}
                </text>
              </g>
            )}
          />
        </ComposedChart>
      </div>

      <div style={{ ...layer, top: 1089 }}>
        <ComposedChart width={W} height={170} data={rows} margin={{ top: 5, left: 22, right: 30, bottom: 0 }}>
          <CartesianGrid stroke="#eeeeee" strokeWidth={1.2} />
          <XAxis
            dataKey="x"
            type="number"
            domain={X_DOMAIN}
            ticks={dateTicks}
            interval={0}
            height={46.5}
            tickSize={9}
            tick={DateTick}
            tickLine={{ stroke: "#8a8a8a" }}
            axisLine={{ stroke: "#8a8a8a", strokeWidth: 2 }}
            allowDataOverflow
          />
          <YAxis type="number" orientation="right" mirror width={1} domain={[0, 750]} ticks={volumeTicks} interval={0} axisLine={false} tickLine={false} tick={VolumeTick} />
          <Bar dataKey="volume" barSize={14} shape={VolumeBar} isAnimationActive={false} />
          <Line dataKey="volSma" stroke="#7a6ff0" strokeOpacity={0.4} strokeWidth={3} dot={false} connectNulls isAnimationActive={false} />
          <Line dataKey="volSma" stroke="#3d1fe8" strokeWidth={1.4} dot={false} connectNulls isAnimationActive={false} />
        </ComposedChart>
      </div>
      <div style={{ position: "absolute", top: 1089, left: 21, width: 2156, height: 2, background: "#cccccc" }} />

      <div style={{ ...layer, fontFamily: FONT, whiteSpace: "nowrap" }}>
        <Logo />
        <div style={{ position: "absolute", left: 50, top: 20, fontFamily: "Lato, sans-serif", fontSize: 27, lineHeight: "32px", color: "#1a1a1a" }}>
          <b>Trend</b>
          <span style={{ fontWeight: 300 }}>Spider</span>
        </div>
        <div style={{ position: "absolute", left: 204, top: 27, fontSize: 12.8, lineHeight: "18px", color: "#333" }}>May 26, 2023 7:31AM EDT</div>
        <div style={{ position: "absolute", left: 23, top: 59, fontSize: 12.6, lineHeight: "18px", color: "#333" }}>IPO, Daily, Candles chart</div>
        {legendRows.map(([text, color], i) => (
          <div key={text} style={{ position: "absolute", left: 23, top: 84 + i * 20, fontSize: 12.85, lineHeight: "18px", color }}>
            {text}
          </div>
        ))}
        <div style={{ position: "absolute", left: 23, top: 1093, fontSize: 12.85, lineHeight: "18px", color: "#8d80f0" }}>Volume (Lower) (50, SMA), Daily</div>
        <div style={{ position: "absolute", left: 2107, top: 1198, fontSize: 10, lineHeight: "16px", color: "#8a8a8a" }}>Exchange: EDT</div>
        <div style={{ position: "absolute", left: 20, top: 1243, fontSize: 10, lineHeight: "14px", color: "#333" }}>©2023 TrendSpider</div>
      </div>
    </div>
  );
}
